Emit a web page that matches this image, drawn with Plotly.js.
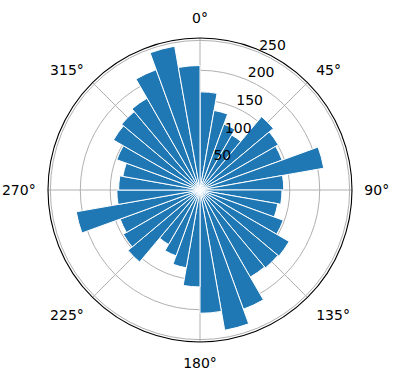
<!DOCTYPE html>
<html>
<head>
<meta charset="utf-8">
<script src="https://cdn.plot.ly/plotly-3.0.1.min.js"></script>
<style>html,body{margin:0;padding:0;background:#fff;}#chart{width:396px;height:380px;}</style>
</head>
<body>
<div id="chart"></div>
<script>
// bar centre angles (degrees, clockwise from north)
const thetaDeg = [5,15,25,35,45,55,65,75,85,95,105,115,125,135,145,155,165,175,
                  185,195,205,215,225,235,245,255,265,275,285,295,305,315,325,335,345,355];
// bar heights
const radii = [164,135,117,106,160,151,146,210,140,137,132,148,172,170,168,212,238,206,
               162,132,117,105,157,148,142,210,139,136,131,148,167,171,177,214,244,208];
const barWidth = 10;
const angTickVals = [0,45,90,135,180,225,270,315];
const angTickText = ["0°","45°","90°","135°","180°","225°","270°","315°"];
const radTickVals = [50,100,150,200,250];
const radTickText = ["50","100","150","200","250"];
const rRange = [0, 254];

const bars = {
  type: 'barpolar',
  subplot: 'polar',
  r: radii,
  theta: thetaDeg,
  width: radii.map(() => barWidth),
  marker: {color: '#1f77b4', line: {color: '#ffffff', width: 1}},
  hoverinfo: 'none'
};
// empty trace so that the label-only overlay subplot is drawn
const labelHolder = {type: 'barpolar', subplot: 'polar2', r: [], theta: [], hoverinfo: 'none'};

const tickFont = {family: 'DejaVu Sans', size: 14, color: '#000'};
const dom = {x: [48/396, 352/396], y: [38/380, 342/380]};
// radial tick labels sit up-right of their tick point (matplotlib style): overlay shifted by a few px
const labShift = {x: -5/396, y: 12/380};

const layout = {
  width: 396, height: 380,
  margin: {l: 0, r: 0, t: 0, b: 0},
  paper_bgcolor: '#fff',
  showlegend: false,
  font: {family: 'DejaVu Sans', size: 14, color: '#000'},
  polar: {
    domain: dom,
    bgcolor: '#fff',
    angularaxis: {
      rotation: 90, direction: 'clockwise',
      tickmode: 'array', tickvals: angTickVals, ticktext: angTickText,
      showgrid: true, gridcolor: '#b0b0b0', gridwidth: 1,
      showline: true, linecolor: '#000', linewidth: 1.1,
      ticks: 'outside', ticklen: 9, tickcolor: 'rgba(0,0,0,0)',
      tickfont: tickFont
    },
    radialaxis: {
      range: rRange, angle: 67.5,
      tickmode: 'array', tickvals: radTickVals, ticktext: radTickText,
      showgrid: true, gridcolor: '#b0b0b0', gridwidth: 1,
      showline: false, ticks: '', showticklabels: false
    }
  },
  polar2: {
    domain: {x: [dom.x[0] + labShift.x, dom.x[1] + labShift.x],
             y: [dom.y[0] + labShift.y, dom.y[1] + labShift.y]},
    bgcolor: 'rgba(0,0,0,0)',
    angularaxis: {
      rotation: 90, direction: 'clockwise',
      showgrid: false, showline: false, showticklabels: false, ticks: ''
    },
    radialaxis: {
      range: rRange, angle: 67.5, side: 'clockwise',
      tickmode: 'array', tickvals: radTickVals, ticktext: radTickText,
      showgrid: false, showline: false, ticks: '',
      tickfont: tickFont, tickangle: 67.5
    }
  }
};

Plotly.newPlot('chart', [bars, labelHolder], layout, {staticPlot: true, displayModeBar: false});
</script>
</body>
</html>
